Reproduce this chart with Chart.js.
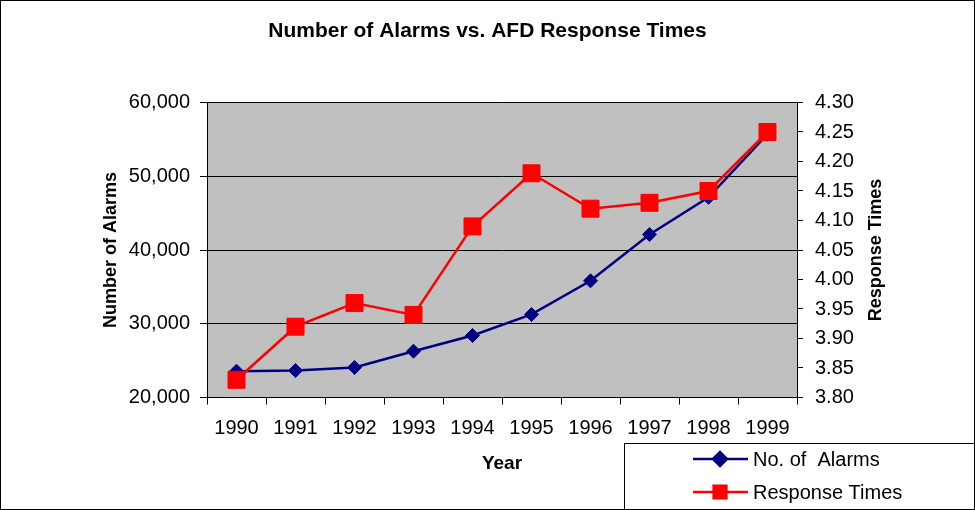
<!DOCTYPE html>
<html>
<head>
<meta charset="utf-8">
<script src="https://cdn.jsdelivr.net/npm/chart.js@4"></script>
<style>
  body { margin: 0; background: #fff; }
  #wrap { width: 975px; height: 510px; }
</style>
</head>
<body>
<div id="wrap"><canvas id="alarmChart" width="975" height="510"></canvas></div>
<script>
    // values
    const years = ['1990', '1991', '1992', '1993', '1994', '1995', '1996', '1997', '1998', '1999'];
    const alarms = [23570, 23660, 24070, 26280, 28410, 31260, 35820, 42110, 47140, 55700];
    const responseTimes = [3.83, 3.92, 3.96, 3.94, 4.09, 4.18, 4.12, 4.13, 4.15, 4.25];
    const alarmRange = [20000, 60000, 10000];
    const responseRange = [3.80, 4.30, 0.05];

    const FONT = '"Liberation Sans", Arial, sans-serif';

    // grey plot area + outer frame
    const backdrop = {
        id: 'backdrop',
        beforeDraw(chart) {
            const { ctx, chartArea: a } = chart;
            ctx.save();
            ctx.fillStyle = '#c0c0c0';
            ctx.fillRect(a.left, a.top, a.right - a.left, a.bottom - a.top);
            ctx.restore();
        },
        afterDraw(chart) {
            const { ctx, chartArea: a } = chart;
            ctx.save();
            // right axis title reads bottom-to-top like the original
            ctx.font = 'bold 18px ' + FONT;
            ctx.fillStyle = '#000';
            ctx.textAlign = 'center';
            ctx.textBaseline = 'middle';
            ctx.translate(876, (a.top + a.bottom) / 2);
            ctx.rotate(-Math.PI / 2);
            ctx.fillText('Response Times', 0, 0);
            ctx.restore();

            // legend box
            ctx.save();
            ctx.fillStyle = '#fff';
            ctx.fillRect(624.5, 443.5, 360, 70);
            ctx.strokeStyle = '#000';
            ctx.lineWidth = 1;
            ctx.strokeRect(624.5, 443.5, 360, 70);
            const rows = [
                { label: 'No. of  Alarms', color: '#000080', style: 'rectRot', r: 7, y: 459 },
                { label: 'Response Times', color: '#ff0000', style: 'rect', r: 9, y: 492 }
            ];
            rows.forEach(row => {
                ctx.strokeStyle = row.color;
                ctx.lineWidth = 2.5;
                ctx.beginPath();
                ctx.moveTo(693, row.y);
                ctx.lineTo(748, row.y);
                ctx.stroke();
                ctx.fillStyle = row.color;
                Chart.helpers.drawPoint(ctx, { pointStyle: row.style, radius: row.r, borderWidth: 1 }, 720, row.y);
                ctx.fill();
                ctx.fillStyle = '#000';
                ctx.font = '20px ' + FONT;
                ctx.textAlign = 'left';
                ctx.textBaseline = 'middle';
                ctx.fillText(row.label, 753, row.y + 1);
            });
            ctx.restore();

            ctx.save();
            ctx.strokeStyle = '#000';
            ctx.lineWidth = 1;
            ctx.strokeRect(0.5, 0.5, 974, 509);
            ctx.restore();
        }
    };

    const ctx = document.getElementById('alarmChart');
    const chart = new Chart(ctx, {
        type: 'line',
        data: {
            labels: years,
            datasets: [{
                label: 'No. of  Alarms',
                data: alarms,
                yAxisID: 'y',
                borderColor: '#000080',
                backgroundColor: '#000080',
                borderWidth: 2.5,
                pointStyle: 'rectRot',
                pointRadius: 7,
                pointBorderWidth: 1,
                tension: 0,
                order: 1
            }, {
                label: 'Response Times',
                data: responseTimes,
                yAxisID: 'y1',
                borderColor: '#ff0000',
                backgroundColor: '#ff0000',
                borderWidth: 2.5,
                pointStyle: 'rect',
                pointRadius: 12,
                pointBorderWidth: 1,
                tension: 0,
                order: 0
            }]
        },
        options: {
            responsive: false,
            animation: false,
            layout: { padding: 0 },
            plugins: {
                legend: { display: false },
                tooltip: { enabled: false },
                title: {
                    display: true,
                    text: 'Number of Alarms vs. AFD Response Times',
                    color: '#000',
                    font: { family: FONT, size: 21, weight: 'bold' },
                    padding: { top: 19, bottom: 58.3 }
                }
            },
            scales: {
                x: {
                    offset: true,
                    afterFit(scale) { scale.height = 112.5; },
                    grid: { offset: true, drawOnChartArea: false, color: '#000', tickLength: 7 },
                    border: { color: '#000', width: 1 },
                    ticks: { color: '#000', font: { family: FONT, size: 20 }, padding: 12, maxRotation: 0 },
                    title: {
                        display: true, text: 'Year', color: '#000',
                        font: { family: FONT, size: 19, weight: 'bold' },
                        padding: { top: 0, bottom: 35 }
                    }
                },
                y: {
                    position: 'left',
                    min: alarmRange[0], max: alarmRange[1],
                    afterFit(scale) { scale.width = 207; },
                    grid: { color: '#000', lineWidth: 1, tickLength: 7 },
                    border: { color: '#000', width: 1 },
                    ticks: {
                        stepSize: alarmRange[2],
                        color: '#000',
                        font: { family: FONT, size: 20 },
                        padding: 10,
                        callback: v => v.toLocaleString('en-US')
                    },
                    title: {
                        display: true, text: 'Number of Alarms', color: '#000',
                        font: { family: FONT, size: 18, weight: 'bold' },
                        padding: { top: 100, bottom: 0 }
                    }
                },
                y1: {
                    position: 'right',
                    min: responseRange[0], max: responseRange[1],
                    afterFit(scale) { scale.width = 178; },
                    grid: { drawOnChartArea: false, color: '#000', tickLength: 6 },
                    border: { color: '#000', width: 1 },
                    ticks: {
                        stepSize: responseRange[2],
                        color: '#000',
                        font: { family: FONT, size: 20 },
                        padding: 12,
                        callback: v => v.toFixed(2)
                    }
                }
            }
        },
        plugins: [backdrop]
    });
</script>
</body>
</html>
